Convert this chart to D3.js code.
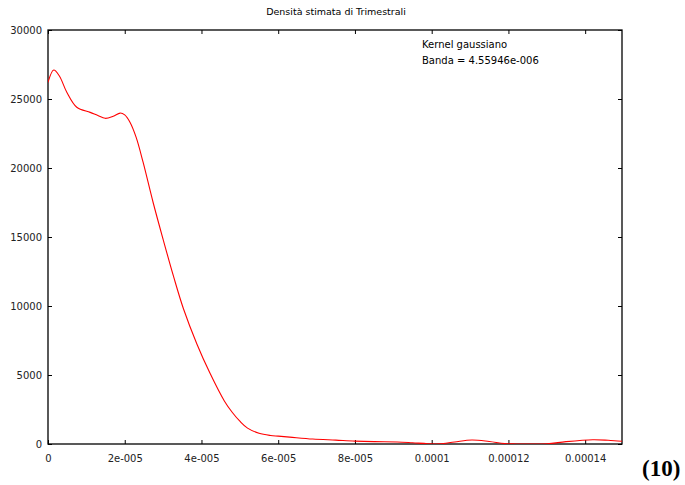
<!DOCTYPE html>
<html>
<head>
<meta charset="utf-8">
<script src="https://cdn.jsdelivr.net/npm/d3@7"></script>
<style>
  html, body { margin: 0; padding: 0; background: #fff; }
  svg { display: block; }
</style>
</head>
<body>
<script>
// Kernel density estimate of "Trimestrali"
const densX = [0, 0.15e-5, 0.3e-5, 0.49e-5, 0.75e-5, 1.1e-5, 1.3e-5, 1.49e-5, 1.7e-5, 1.88e-5, 2.0e-5,
  2.14e-5, 2.3e-5, 2.48e-5, 2.74e-5, 3.0e-5, 3.27e-5, 3.53e-5, 3.88e-5, 4.22e-5, 4.6e-5, 4.8e-5,
  5.0e-5, 5.2e-5, 5.5e-5, 5.8e-5, 6.0e-5, 6.3e-5, 6.9e-5, 7.5e-5, 8.0e-5, 8.5e-5, 9.1e-5, 9.5e-5,
  9.9e-5, 10.2e-5, 10.6e-5, 11.05e-5, 11.5e-5, 11.9e-5, 12.2e-5, 13.0e-5, 13.5e-5, 14.2e-5, 14.6e-5, 14.96e-5];
const densY = [26200, 27100, 26650, 25490, 24400, 24030, 23800, 23600, 23750, 23980, 23850,
  23300, 22200, 20400, 17500, 14830, 12160, 9800, 7250, 5140, 3100, 2300,
  1650, 1150, 780, 620, 570, 500, 360, 280, 210, 170, 150, 90,
  20, 10, 150, 290, 180, 30, 5, 10, 170, 310, 270, 200];

const xTickValues = [0, 2e-5, 4e-5, 6e-5, 8e-5, 1e-4, 1.2e-4, 1.4e-4];
const xTickLabels = ["0", "2e-005", "4e-005", "6e-005", "8e-005", "0.0001", "0.00012", "0.00014"];
const yTickValues = [0, 5000, 10000, 15000, 20000, 25000, 30000];

const titleText = "Densità stimata di Trimestrali";
const legendLines = ["Kernel gaussiano", "Banda = 4.55946e-006"];

const W = 685, H = 485;
const m = { left: 48, top: 30, right: 63, bottom: 41 };
const iw = W - m.left - m.right, ih = H - m.top - m.bottom;
const font = "DejaVu Sans, Verdana, sans-serif";

const svg = d3.select("body").append("svg").attr("width", W).attr("height", H);

const x = d3.scaleLinear().domain([0, 0.0001496]).range([m.left, m.left + iw]);
const y = d3.scaleLinear().domain([0, 30000]).range([m.top + ih, m.top]);

// title
svg.append("text").attr("x", 336).attr("y", 15).attr("text-anchor", "middle")
  .attr("font-family", font).attr("font-size", 9.5).attr("fill", "#000").text(titleText);

const tickLen = 4;
const fmtX = d => xTickLabels[xTickValues.indexOf(d)];

// bottom axis: ticks pointing inward
const gx = svg.append("g").attr("transform", `translate(0,${m.top + ih})`)
  .call(d3.axisBottom(x).tickValues(xTickValues).tickFormat(fmtX).tickSizeInner(-tickLen).tickSizeOuter(0).tickPadding(11));
// top mirror ticks
const gxt = svg.append("g").attr("transform", `translate(0,${m.top})`)
  .call(d3.axisTop(x).tickValues(xTickValues).tickFormat("").tickSizeInner(-tickLen).tickSizeOuter(0));
// left axis
const gy = svg.append("g").attr("transform", `translate(${m.left},0)`)
  .call(d3.axisLeft(y).tickValues(yTickValues).tickFormat(d3.format("d")).tickSizeInner(-tickLen).tickSizeOuter(0).tickPadding(6));
// right mirror ticks
const gyr = svg.append("g").attr("transform", `translate(${m.left + iw},0)`)
  .call(d3.axisRight(y).tickValues(yTickValues).tickFormat("").tickSizeInner(-tickLen).tickSizeOuter(0));

[gx, gxt, gy, gyr].forEach(g => {
  g.select(".domain").remove();
  g.selectAll("line").attr("stroke", "#000");
  g.selectAll("text").attr("font-family", font).attr("font-size", 10).attr("fill", "#222");
});

// frame
svg.append("rect").attr("x", m.left).attr("y", m.top).attr("width", iw).attr("height", ih)
  .attr("fill", "none").attr("stroke", "#000").attr("stroke-width", 1.3);

// density curve, clipped to the plot frame
svg.append("clipPath").attr("id", "plotclip").append("rect")
  .attr("x", m.left).attr("y", m.top).attr("width", iw).attr("height", ih);
const pts = densX.map((v, i) => [v, densY[i]]);
svg.append("path").datum(pts)
  .attr("clip-path", "url(#plotclip)")
  .attr("fill", "none").attr("stroke", "#ff0000").attr("stroke-width", 1.1)
  .attr("d", d3.line().x(d => x(d[0])).y(d => y(d[1])).curve(d3.curveCatmullRom.alpha(0.5)));

// legend text
legendLines.forEach((t, i) => {
  svg.append("text").attr("x", 422).attr("y", 48 + i * 16)
    .attr("font-family", font).attr("font-size", 10).attr("fill", "#000").text(t);
});

// figure number
svg.append("text").attr("x", 642).attr("y", 476)
  .attr("font-family", "Liberation Serif, Times New Roman, serif").attr("font-weight", "bold")
  .attr("font-size", 23).attr("fill", "#000").text("(10)");
</script>
</body>
</html>
